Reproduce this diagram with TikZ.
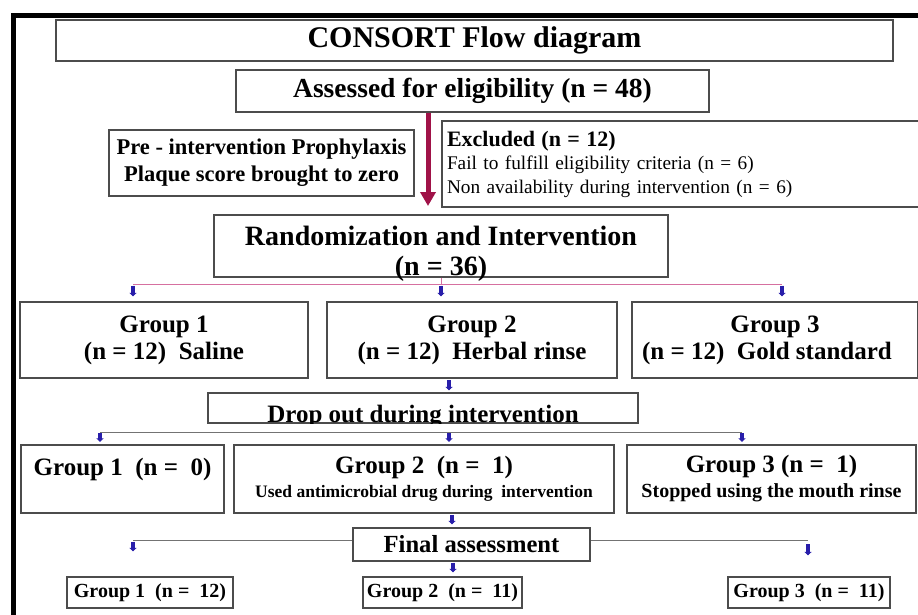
\documentclass[tikz,border=0pt]{standalone}
\usepackage{fontspec}
\setmainfont{Liberation Serif}
\usepackage{tikz}
\usetikzlibrary{arrows.meta, positioning, calc}
\definecolor{maroonred}{RGB}{160,18,72}
\definecolor{tickblue}{RGB}{40,30,170}
\definecolor{splitpink}{RGB}{214,112,160}
\newcommand{\fsz}[2]{\fontsize{#1}{#2}\selectfont}

\begin{document}
\begin{tikzpicture}[x=1pt, y=-1pt,
    box/.style={draw=black!70, line width=1.2pt, fill=white, inner sep=0pt, align=center, font=\bfseries},
    tick/.style={draw=tickblue, fill=tickblue, line width=3.6pt, -{Triangle[width=7pt,length=3.5pt]}},
    branch/.style={draw=black!55, line width=1pt},
    split/.style={draw=splitpink, line width=1pt},
    bigarrow/.style={draw=maroonred, line width=5pt, -{Triangle[width=15pt,length=14pt]}},
  ]
  \useasboundingbox (0,0) rectangle (918,614);
  % outer frame (top and left edge only)
  \draw[line width=5pt] (13,616) -- (13,15.5) -- (920,15.5);

  \node[box, minimum width=837pt, minimum height=41pt, font=\bfseries\fsz{30}{32}] (title) at (474.5,40.5) {CONSORT Flow diagram};
  \node[box, minimum width=473pt, minimum height=42pt, font=\bfseries\fsz{27.5}{30}] (assess) at (472.5,91) {Assessed for eligibility (n = 48)};

  \node[box, minimum width=305pt, minimum height=66pt, font=\bfseries\fsz{22.5}{27}] (prophy) at (261.5,163) {Pre - intervention Prophylaxis\\Plaque score brought to zero};
  \node[box, minimum width=493pt, minimum height=86pt, text width=483pt, inner xsep=5pt, align=left, font=\fsz{19.3}{23.5}] (excl) at (688.5,164)
    {{\bfseries\fsz{22}{24}Excluded (n = 12)}\\Fail to fulfill eligibility criteria (n = 6)\\Non availability during intervention (n = 6)};
  \coordinate (exclend) at (428,206);
  \draw[bigarrow] (assess.south -| exclend) -- (exclend);

  \node[box, minimum width=454pt, minimum height=62pt] (rand) at (441,246) {};
  \node[align=center, inner sep=0pt, font=\bfseries\fsz{28}{30}] (randtext) at ([yshift=-8pt]rand.center) {Randomization and Intervention\\(n = 36)};

  % randomisation split
  \coordinate (r1) at (133,284);
  \coordinate (r3) at (782,284);
  \draw[split] (r1) -- (r3);
  \draw[split] (rand.south) -- (rand.south |- r1);

  \node[box, minimum width=288pt, minimum height=76pt, font=\bfseries\fsz{25}{27}] (g1a) at (164,340) {Group 1\\(n = 12)\ \ Saline};
  \node[box, minimum width=290pt, minimum height=76pt, font=\bfseries\fsz{25}{27}] (g2a) at (472,340) {Group 2\\(n = 12)\ \ Herbal rinse};
  \node[box, minimum width=286pt, minimum height=76pt, font=\bfseries\fsz{25}{27}] (g3a) at (775,340) {Group 3\\\hspace*{-16pt}(n = 12)\ \ Gold standard};

  \draw[tick, shorten <=1.5pt, shorten >=5pt] (r1) -- (r1 |- g1a.north);
  \draw[tick, shorten <=1.5pt, shorten >=5pt] (rand.south |- r1) -- (rand.south |- g2a.north);
  \draw[tick, shorten <=1.5pt, shorten >=5pt] (r3) -- (r3 |- g3a.north);

  \node[box, minimum width=430pt, minimum height=30pt] (drop) at (423,408) {};
  \begin{scope}
    \clip (drop.south west) rectangle (drop.north east);
    \node[anchor=base, inner sep=0pt, font=\bfseries\fsz{25}{27}] (droptext) at ([yshift=1.5pt]drop.south) {Drop out during intervention};
  \end{scope}
  \coordinate (d0) at (449,378);
  \draw[tick, shorten <=2pt, shorten >=2pt] (d0) -- (d0 |- drop.north);

  % drop out split
  \coordinate (b1) at (100,432);
  \coordinate (b2) at (449,432);
  \coordinate (b3) at (742,432);
  \draw[branch] (b1) -- (b3);

  \node[box, minimum width=203pt, minimum height=68pt, text height=18pt, text depth=26pt, font=\bfseries\fsz{25}{27}] (g1b) at (122.5,479) {Group 1\ \ (n =\ \ 0)};
  \node[box, minimum width=380pt, minimum height=68pt, font=\bfseries\fsz{25}{24}] (g2b) at (424,479) {Group 2\ \ (n =\ \ 1)\\{\fsz{17.5}{20}Used antimicrobial drug during\ \ intervention}};
  \node[box, minimum width=289pt, minimum height=68pt, font=\bfseries\fsz{25}{25}] (g3b) at (771.5,479) {Group 3 (n =\ \ 1)\\{\fsz{20}{22}Stopped using the mouth rinse}};

  \draw[tick, shorten <=1pt, shorten >=2.5pt] (b1) -- (b1 |- g1b.north);
  \draw[tick, shorten <=1pt, shorten >=2.5pt] (b2) -- (b2 |- g2b.north);
  \draw[tick, shorten <=1pt, shorten >=2.5pt] (b3) -- (b3 |- g3b.north);

  \node[box, minimum width=237pt, minimum height=33pt, font=\bfseries\fsz{24.6}{27}] (final) at (471.5,544.5) {Final assessment};
  \coordinate (f0) at (452,513);
  \draw[tick, shorten <=2pt, shorten >=3pt] (f0) -- (f0 |- final.north);

  \node[box, minimum width=166pt, minimum height=31pt, font=\bfseries\fsz{20}{22}] (fg1) at (150,592.5) {Group 1\ \ (n =\ \ 12)};
  \node[box, minimum width=159pt, minimum height=31pt, font=\bfseries\fsz{20}{22}] (fg2) at (442.5,592.5) {Group 2\ \ (n =\ \ 11)};
  \node[box, minimum width=162pt, minimum height=31pt, font=\bfseries\fsz{20}{22}] (fg3) at (809,592.5) {Group 3\ \ (n =\ \ 11)};

  % final assessment split
  \coordinate (fl) at (133,540);
  \coordinate (fr) at (808,540);
  \coordinate (f1) at (453,561);
  \draw[branch] (fl) -- (fl -| final.west);
  \draw[branch] (final.east |- fr) -- (fr);
  \draw[tick, shorten <=1.5pt, shorten >=25pt] (fl) -- (fl |- fg1.north);
  \draw[tick, shorten <=4pt, shorten >=21pt] (fr) -- (fr |- fg3.north);
  \draw[tick, shorten <=1.5pt, shorten >=4pt] (f1) -- (f1 |- fg2.north);
\end{tikzpicture}
\end{document}
